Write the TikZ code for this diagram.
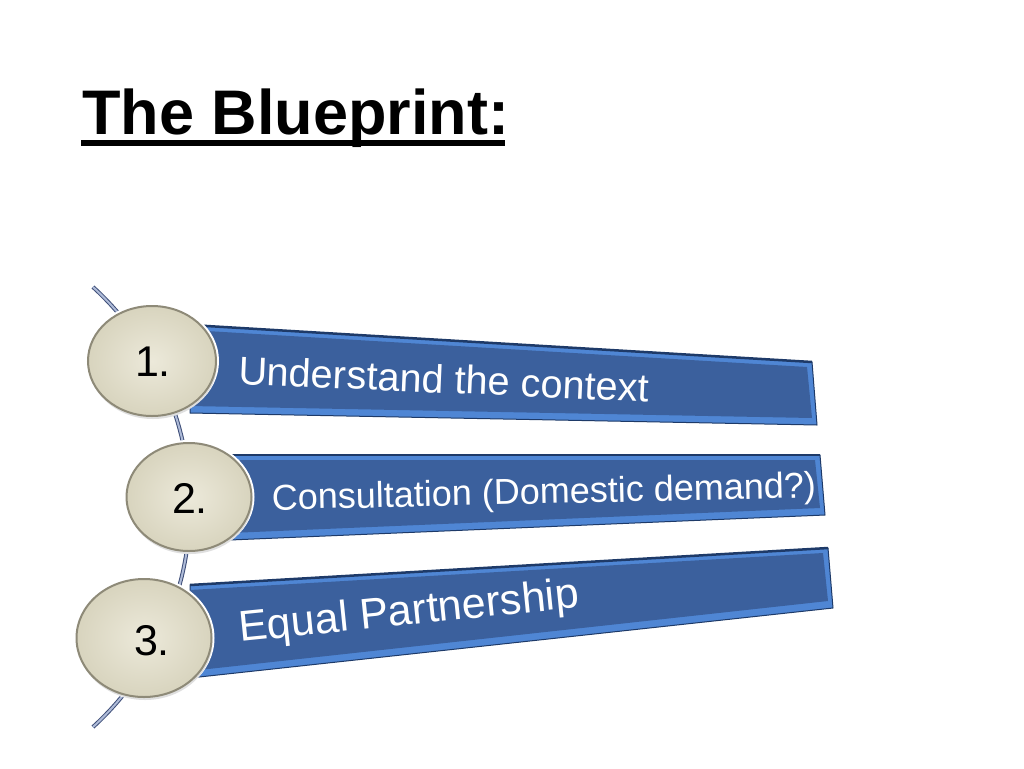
\documentclass[tikz,border=0pt]{standalone}
\usepackage{fontspec}
\setmainfont{Liberation Sans}
\usetikzlibrary{shapes.geometric,shadows,calc}
\definecolor{bannerMain}{HTML}{3B609D}
\definecolor{bevelLight}{HTML}{4F86D4}
\definecolor{bevelDark}{HTML}{1E3A68}
\definecolor{circIn}{HTML}{ECE9DA}
\definecolor{circOut}{HTML}{D8D4BE}
\definecolor{circEdge}{HTML}{8E8A78}
\definecolor{lineDark}{HTML}{3E4E78}
\definecolor{lineLight}{HTML}{AEBBD8}
\tikzset{
  outerbox/.style={fill=bevelLight, draw=bevelDark, line width=1pt, line join=round},
  facebox/.style={fill=bannerMain},
  topedge/.style={draw=bevelDark, line width=2.5pt},
  btext/.style={text=white, inner sep=0pt, anchor=base west},
  numcirc/.style={ellipse, inner sep=0pt, shading=radial, inner color=circIn, outer color=circOut,
     draw=circEdge, line width=2pt,
     preaction={draw=white, line width=6pt},
     drop shadow={opacity=0.25, shadow xshift=1pt, shadow yshift=-3pt}},
  numtext/.style={text=black, inner sep=0pt, font=\fontsize{43}{46}\selectfont},
  arcline/.style={draw=lineDark, double=lineLight, double distance=2pt, line width=1pt}
}
\begin{document}
\begin{tikzpicture}[x=1pt,y=-1pt]
\useasboundingbox (0,0) rectangle (1024,768);
\fill[white] (0,0) rectangle (1024,768);

% title
\node[inner sep=0pt, anchor=base west, font=\fontsize{63}{70}\selectfont\bfseries] (title) at (82,134) {The Blueprint:};
\coordinate (ulA) at (81,143);
\coordinate (ulB) at (505,143);
\draw[line width=5.5pt] (ulA) -- (ulB);

% arc line
\coordinate (arcTop) at (93,287);
\draw[arcline, domain=-47.6:47.6, samples=60] plot ({-108+298*cos(\x)}, {507+298*sin(\x)});

% banner 1
\coordinate (aTL) at (190,325); \coordinate (aTR) at (812,362);
\coordinate (aBR) at (817,425); \coordinate (aBL) at (190,413);
\path[outerbox] (aTL) -- (aTR) -- (aBR) -- (aBL) -- cycle;
\path[facebox] ($(aTL)+(0,5)$) -- ($(aTR)+(-5,5)$) -- ($(aBR)+(-5,-7)$) -- ($(aBL)+(0,-7)$) -- cycle;
\draw[topedge] (aTL) -- (aTR);
\node[btext, rotate=-2.5, font=\fontsize{39.7}{44}\selectfont] (t1) at (238,384) {Understand the context};

% banner 2
\coordinate (bTL) at (230,455); \coordinate (bTR) at (820,455);
\coordinate (bBR) at (825,515); \coordinate (bBL) at (230,540);
\path[outerbox] (bTL) -- (bTR) -- (bBR) -- (bBL) -- cycle;
\path[facebox] ($(bTL)+(0,5)$) -- ($(bTR)+(-5,5)$) -- ($(bBR)+(-5,-7)$) -- ($(bBL)+(0,-7)$) -- cycle;
\draw[topedge] (bTL) -- (bTR);
\node[btext, rotate=1.3, font=\fontsize{36}{40}\selectfont] (t2) at (272,510) {Consultation (Domestic demand?)};

% banner 3
\coordinate (cTL) at (190,585); \coordinate (cTR) at (828,548);
\coordinate (cBR) at (833,608); \coordinate (cBL) at (190,678);
\path[outerbox] (cTL) -- (cTR) -- (cBR) -- (cBL) -- cycle;
\path[facebox] ($(cTL)+(0,5)$) -- ($(cTR)+(-5,5)$) -- ($(cBR)+(-5,-7)$) -- ($(cBL)+(0,-7)$) -- cycle;
\draw[topedge] (cTL) -- (cTR);
\node[btext, rotate=5.8, font=\fontsize{43}{46}\selectfont] (t3) at (240,642) {Equal Partnership};

% circles
\node[numcirc, minimum width=128pt, minimum height=110pt] (c1) at (152,361) {};
\node[numcirc, minimum width=125pt, minimum height=108pt] (c2) at (189,497) {};
\node[numcirc, minimum width=135pt, minimum height=118pt] (c3) at (144,638) {};
\node[numtext] (n1) at (153,362) {1.};
\node[numtext] (n2) at (190,498) {2.};
\node[numtext] (n3) at (152,641) {3.};
\end{tikzpicture}
\end{document}
